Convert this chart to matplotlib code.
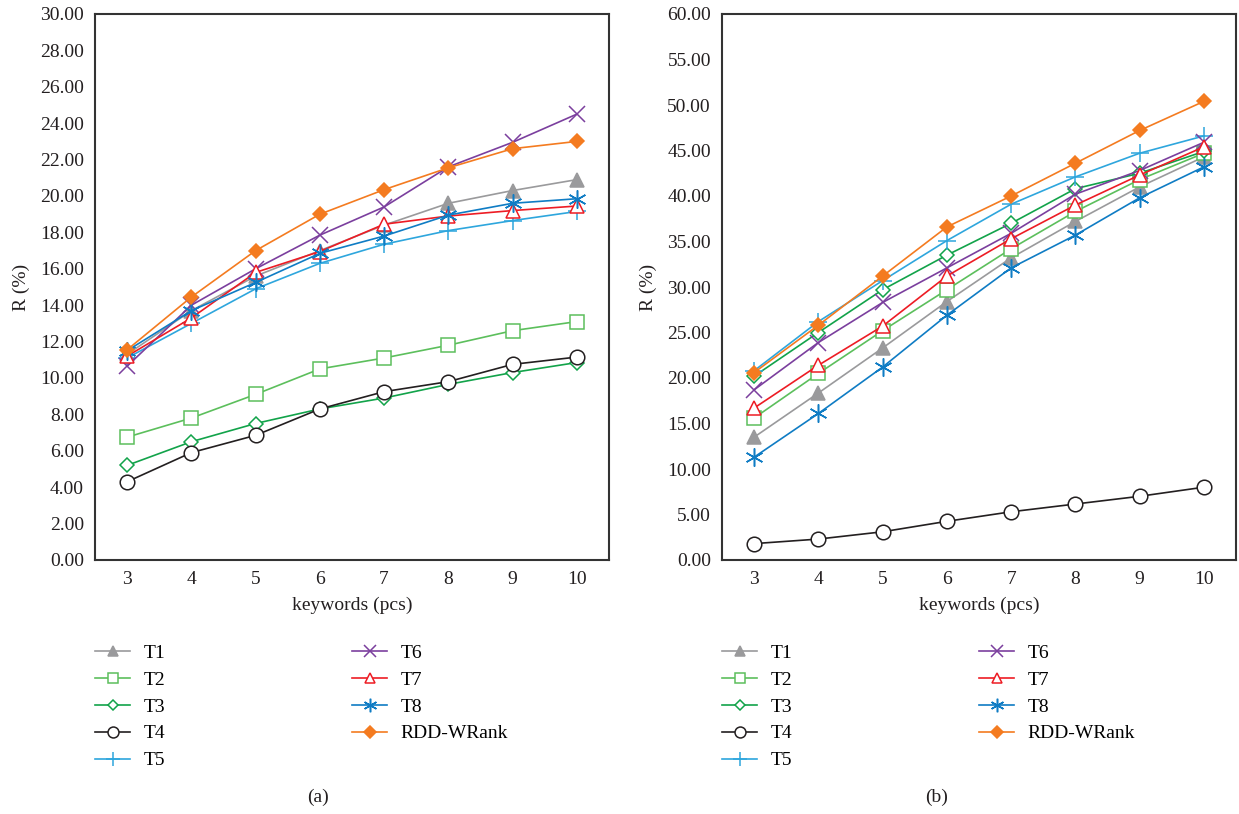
import matplotlib
matplotlib.use("Agg")
import matplotlib.pyplot as plt
import numpy as np

plt.rcParams['font.family'] = ['Liberation Serif', 'DejaVu Serif']

keywords = [3, 4, 5, 6, 7, 8, 9, 10]
series_names = ["T1", "T2", "T3", "T4", "T5", "T6", "T7", "T8", "RDD-WRank"]

# Panel (a)
a_T1 = [11.3, 13.7, 15.6, 17.0, 18.4, 19.6, 20.3, 20.9]
a_T2 = [6.75, 7.8, 9.1, 10.5, 11.1, 11.8, 12.6, 13.1]
a_T3 = [5.2, 6.5, 7.5, 8.3, 8.9, 9.65, 10.3, 10.85]
a_T4 = [4.3, 5.9, 6.85, 8.3, 9.25, 9.8, 10.75, 11.15]
a_T5 = [11.1, 13.0, 14.9, 16.3, 17.35, 18.1, 18.65, 19.15]
a_T6 = [10.65, 14.0, 16.0, 17.85, 19.4, 21.6, 22.95, 24.5]
a_T7 = [11.2, 13.3, 15.8, 16.95, 18.45, 18.9, 19.2, 19.45]
a_T8 = [11.5, 13.7, 15.25, 16.85, 17.8, 18.95, 19.6, 19.85]
a_RDD = [11.55, 14.45, 17.0, 19.0, 20.35, 21.55, 22.6, 23.0]

# Panel (b)
b_T1 = [13.5, 18.35, 23.3, 28.4, 33.2, 37.2, 41.0, 44.3]
b_T2 = [15.6, 20.5, 25.2, 29.7, 34.2, 38.3, 41.8, 44.7]
b_T3 = [20.2, 25.0, 29.7, 33.5, 37.0, 40.8, 42.5, 44.9]
b_T4 = [1.8, 2.3, 3.1, 4.25, 5.3, 6.15, 7.0, 8.0]
b_T5 = [20.8, 26.2, 30.7, 35.1, 39.1, 42.1, 44.7, 46.6]
b_T6 = [18.7, 23.9, 28.3, 32.1, 35.9, 40.2, 42.8, 45.9]
b_T7 = [16.7, 21.4, 25.7, 31.2, 35.3, 39.0, 42.3, 45.4]
b_T8 = [11.3, 16.1, 21.2, 26.9, 32.1, 35.7, 39.8, 43.2]
b_RDD = [20.6, 25.8, 31.2, 36.6, 40.0, 43.6, 47.2, 50.4]

a_data = [a_T1, a_T2, a_T3, a_T4, a_T5, a_T6, a_T7, a_T8, a_RDD]
b_data = [b_T1, b_T2, b_T3, b_T4, b_T5, b_T6, b_T7, b_T8, b_RDD]

a_yticks = np.arange(0, 30.01, 2)
b_yticks = np.arange(0, 60.01, 5)

styles = [
    dict(color="#9a9a9c", marker="^", ms=10.5, mfc="#9a9a9c", mec="#9a9a9c"),
    dict(color="#5cbf5c", marker="s", ms=10, mfc="white", mec="#5cbf5c"),
    dict(color="#12a34a", marker="D", ms=7.2, mfc="white", mec="#12a34a"),
    dict(color="#231f20", marker="o", ms=10.5, mfc="white", mec="#231f20"),
    dict(color="#2ea6dd", marker="+", ms=12.5, mfc="none", mec="#2ea6dd"),
    dict(color="#7b3f9e", marker="x", ms=12, mfc="none", mec="#7b3f9e"),
    dict(color="#ed1c24", marker="^", ms=10.5, mfc="white", mec="#ed1c24"),
    dict(color="#0f7cc4", marker=(6, 2, 0), ms=13, mfc="none", mec="#0f7cc4"),
    dict(color="#f47b20", marker="D", ms=7.6, mfc="#f47b20", mec="#f47b20"),
]

W, H = 1239, 814
fig = plt.figure(figsize=(W / 100, H / 100), dpi=100)

def px_axes(l, t, r, b):
    return fig.add_axes([l / W, 1 - b / H, (r - l) / W, (b - t) / H])

FS = 14

def draw_panel(ax, data, yticks, ymax, cap, cap_x, leg_x):
    xs = np.arange(len(keywords))
    handles = []
    for name, vals, st in zip(series_names, data, styles):
        h, = ax.plot(xs, vals, color=st["color"], lw=1.2, marker=st["marker"],
                     ms=st["ms"], mfc=st["mfc"], mec=st["mec"], mew=1.1,
                     label=name)
        handles.append(h)
    ax.set_xlim(-0.5, len(keywords) - 0.5)
    ax.set_ylim(0, ymax)
    ax.set_xticks(xs)
    ax.set_xticklabels([str(k) for k in keywords])
    ax.set_yticks(yticks)
    ax.set_yticklabels([f"{v:.2f}" for v in yticks])
    ax.tick_params(length=0, labelsize=FS, pad=8, colors="#231f20")
    for sp in ax.spines.values():
        sp.set_linewidth(1.5)
        sp.set_color("#333333")
    ax.set_xlabel("keywords (pcs)", fontsize=FS, color="#231f20", labelpad=6)
    ax.set_ylabel("R (%)", fontsize=FS, color="#231f20", labelpad=7)
    fig.legend(handles, series_names, loc="upper left",
               bbox_to_anchor=(leg_x / W, 1 - 644 / H), ncol=2,
               frameon=False, fontsize=FS, handlelength=1.8,
               handletextpad=0.7, columnspacing=9.6, labelspacing=0.48,
               markerscale=0.75,
               borderaxespad=0, borderpad=0)
    fig.text(cap_x / W, 1 - 797 / H, cap, ha="center", va="center",
             fontsize=FS, color="#231f20")

ax1 = px_axes(95, 14, 609, 560)
draw_panel(ax1, a_data, a_yticks, 30, "(a)", 318, 95)
ax2 = px_axes(722, 14, 1236, 560)
draw_panel(ax2, b_data, b_yticks, 60, "(b)", 937, 722)

fig.savefig("out.png", dpi=100)
